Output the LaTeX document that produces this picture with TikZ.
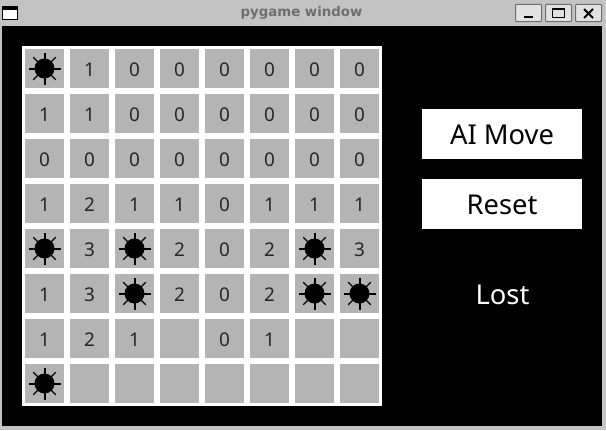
\documentclass[tikz,border=0pt]{standalone}
\usepackage{fontspec}
\setmainfont{Noto Sans}
\newfontfamily\titlefont{DejaVu Sans}
\definecolor{winbar}{HTML}{C3C3C3}
\definecolor{cellgray}{HTML}{B4B4B4}
\definecolor{btnface}{HTML}{E2E2E2}
\definecolor{btnedge}{HTML}{6E6E6E}
\definecolor{titlegray}{HTML}{6E6E6E}
\begin{document}
\begin{tikzpicture}[x=0.75pt, y=-0.75pt, line cap=butt,
  cell/.style={fill=cellgray, minimum width=29.25pt, minimum height=29.25pt, inner sep=0pt, font=\fontsize{14.2}{16}\selectfont, text=black!85, text height=12pt, text depth=0pt},
  panelbtn/.style={fill=white, minimum width=120pt, minimum height=37.5pt, inner sep=0pt, font=\fontsize{20.5}{24}\selectfont, text=black, text height=21pt, text depth=5pt},
  winbtn/.style={draw=btnedge, fill=btnface, line width=0.75pt, rounded corners=0.8pt, minimum width=19.5pt, minimum height=13pt, inner sep=0pt},
  ray/.style={line width=1.5pt}, diagray/.style={line width=0.9pt}]

% window frame
\fill[winbar] (0,0) rectangle (606,430);
\fill[black] (2,26) rectangle (602,426);
\useasboundingbox (0,0) rectangle (606,430);

% title bar
\draw[black, line width=0.75pt, fill=white] (2.5,6.5) rectangle (17.5,19.5);
\fill[black] (2,6) rectangle (18,10);
\node[font=\titlefont\bfseries\fontsize{10}{12}\selectfont, text=titlegray, inner sep=0pt] (title) at (301.5,13) {pygame window};
\node[winbtn] (minbtn) at (528.5,13) {};
\node[winbtn] (maxbtn) at (558.5,13) {};
\node[winbtn] (closebtn) at (588.5,13) {};
\fill[black] (524,15.5) rectangle (533,18);
\draw[black, line width=0.75pt] (552.5,8.5) rectangle (564.5,17.5);
\fill[black] (552,8) rectangle (565,10);
\draw[black, line width=1.5pt] (584,9) -- (593,18) (593,9) -- (584,18);

% board
\fill[white] (22,46) rectangle (382,406);
\foreach \row/\vals in {0/{*,1,0,0,0,0,0,0}, 1/{1,1,0,0,0,0,0,0}, 2/{0,0,0,0,0,0,0,0},
  3/{1,2,1,1,0,1,1,1}, 4/{*,3,*,2,0,2,*,3}, 5/{1,3,*,2,0,2,*,*},
  6/{1,2,1,,0,1,,}, 7/{*,,,,,,,}} {
  \foreach \v [count=\col from 0] in \vals {
    \edef\cx{\the\numexpr 44+45*\col\relax}
    \edef\cy{\the\numexpr 68+45*\row\relax}
    \if\v*
      \node[cell] (c\row\col) at (\cx+0.5,\cy+0.5) {};
      \fill[black] (c\row\col.center) circle (7.5pt);
      \foreach \a in {0,90,180,270}
        \draw[ray] (c\row\col.center) -- ++(\a:12pt);
      \foreach \a in {45,135,225,315}
        \draw[diagray] (c\row\col.center) -- ++(\a:12pt);
    \else
      \node[cell] (c\row\col) at (\cx+0.5,\cy+0.5) {\v};
    \fi
  }
}

% side panel
\node[panelbtn] (aimove) at (502,134) {AI Move};
\node[panelbtn] (reset) at (502,204) {Reset};
\node[font=\fontsize{20.5}{24}\selectfont, text=white, inner sep=0pt] (status) at (502.5,295) {Lost};
\end{tikzpicture}
\end{document}
